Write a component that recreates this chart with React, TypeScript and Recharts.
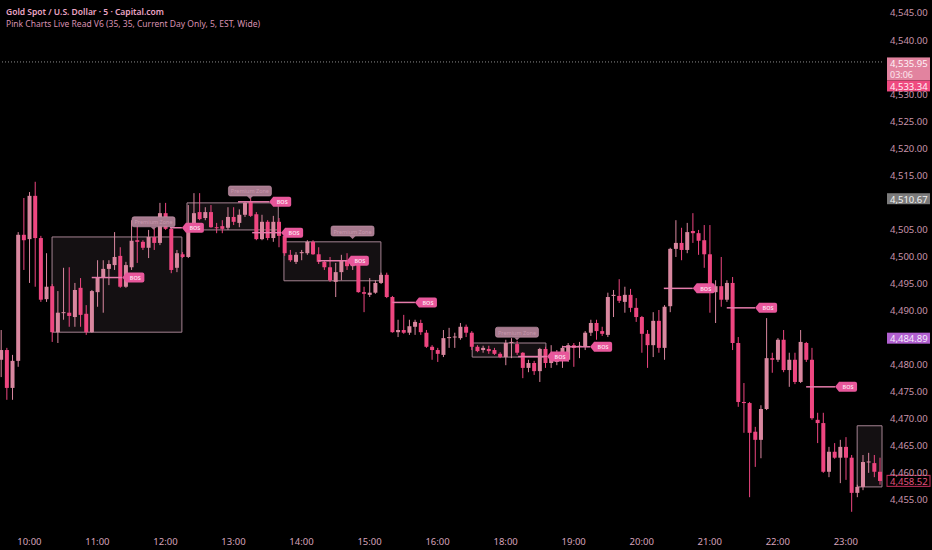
// Gold spot 5m chart, pink theme
import React from 'react';
import { ComposedChart, Bar, XAxis, YAxis, ReferenceArea, ReferenceLine, ReferenceDot } from 'recharts';

const BULL = '#d9879f';
const BEAR = '#ee4680';
const FONT = '"Noto Sans", "Open Sans", sans-serif';

// x axis: candle index of each hour label
const tickIdx = [5, 17, 29, 41, 53, 65, 77, 89, 101, 113, 125, 137, 149];
const tickLabels = ['10:00', '11:00', '12:00', '13:00', '14:00', '15:00', '16:00', '18:00', '19:00', '20:00', '21:00', '22:00', '23:00'];
const priceTicks = [4455, 4460, 4465, 4470, 4475, 4480, 4490, 4495, 4500, 4505, 4515, 4520, 4525, 4530, 4540, 4545];

const opens = [
  4480.9, 4482.7, 4475.7, 4480.7, 4504.0, 4503.2, 4511.2, 4503.4, 4492.1, 4494.5,
  4486.0, 4489.6, 4489.6, 4488.8, 4494.2, 4489.4, 4486.0, 4493.4, 4496.2, 4497.7,
  4498.4, 4500.1, 4494.4, 4498.0, 4503.0, 4502.7, 4501.6, 4503.6, 4502.5, 4508.0,
  4505.1, 4497.9, 4500.4, 4499.9, 4505.4, 4508.2, 4507.1, 4508.2, 4505.4, 4505.6,
  4505.3, 4507.3, 4506.2, 4507.7, 4510.1, 4507.8, 4503.2, 4506.4, 4503.4, 4506.4,
  4503.8, 4500.3, 4499.0, 4500.6, 4500.6, 4502.7, 4500.4, 4499.0, 4498.0, 4495.3,
  4497.1, 4499.3, 4498.2, 4499.0, 4493.4, 4492.9, 4493.3, 4495.1, 4496.6, 4492.5,
  4486.0, 4486.4, 4485.9, 4487.0, 4487.7, 4485.9, 4483.3, 4482.7, 4481.8, 4484.9,
  4485.1, 4484.9, 4487.0, 4485.9, 4483.3, 4482.7, 4482.9, 4482.7, 4482.0, 4481.4,
  4484.0, 4483.8, 4482.2, 4479.4, 4480.3, 4478.8, 4482.9, 4480.3, 4480.5, 4481.2,
  4480.9, 4483.6, 4483.3, 4483.3, 4485.9, 4487.7, 4486.2, 4485.5, 4492.7, 4492.7,
  4491.6, 4492.9, 4490.5, 4488.8, 4485.7, 4483.6, 4488.1, 4483.1, 4490.8, 4501.4,
  4502.5, 4501.2, 4504.7, 4504.3, 4503.0, 4500.4, 4493.4, 4494.5, 4492.0, 4495.1,
  4484.0, 4473.1, 4472.9, 4467.6, 4466.1, 4471.8, 4481.2, 4480.9, 4484.6, 4479.0,
  4480.9, 4476.8, 4484.0, 4480.9, 4469.8, 4469.2, 4460.2, 4463.9, 4462.8, 4464.8,
  4462.8, 4456.3, 4457.4, 4462.0, 4461.8, 4460.2,
];
const highs = [
  4486.4, 4483.1, 4481.8, 4504.5, 4510.8, 4511.9, 4513.8, 4503.8, 4500.6, 4494.9,
  4493.6, 4497.9, 4498.0, 4495.1, 4496.0, 4491.0, 4493.8, 4499.3, 4499.3, 4499.3,
  4504.5, 4501.7, 4499.0, 4506.7, 4506.4, 4503.0, 4504.9, 4505.3, 4509.9, 4509.9,
  4505.3, 4501.2, 4500.8, 4509.5, 4511.7, 4511.7, 4509.1, 4509.5, 4506.2, 4506.7,
  4509.1, 4509.1, 4508.7, 4510.1, 4510.8, 4508.2, 4507.7, 4506.7, 4507.5, 4507.1,
  4504.5, 4501.2, 4500.8, 4501.2, 4503.0, 4503.0, 4501.7, 4499.3, 4499.9, 4498.8,
  4500.3, 4500.6, 4499.7, 4499.3, 4494.4, 4496.0, 4495.6, 4497.0, 4497.0, 4492.7,
  4488.3, 4489.2, 4488.3, 4488.3, 4488.3, 4486.4, 4483.6, 4483.1, 4486.4, 4486.8,
  4485.9, 4487.7, 4487.4, 4486.2, 4483.6, 4483.5, 4483.5, 4483.1, 4482.3, 4484.6,
  4484.9, 4484.4, 4482.3, 4480.9, 4480.7, 4483.1, 4483.3, 4483.6, 4482.7, 4483.5,
  4484.0, 4484.0, 4484.2, 4486.2, 4488.3, 4488.3, 4487.0, 4493.3, 4493.8, 4495.8,
  4494.4, 4494.0, 4492.3, 4489.0, 4486.4, 4489.7, 4490.1, 4491.0, 4501.6, 4506.7,
  4505.3, 4506.2, 4508.0, 4504.9, 4505.8, 4505.8, 4495.6, 4499.9, 4495.6, 4496.2,
  4485.1, 4476.6, 4473.1, 4468.5, 4472.5, 4488.6, 4482.2, 4484.9, 4486.4, 4482.2,
  4482.2, 4486.4, 4484.2, 4483.1, 4471.1, 4471.1, 4464.8, 4465.5, 4466.1, 4466.6,
  4463.3, 4457.8, 4463.3, 4463.7, 4463.3, 4462.8,
];
const lows = [
  4477.7, 4473.5, 4473.5, 4479.6, 4497.5, 4495.1, 4494.4, 4491.6, 4491.6, 4484.2,
  4484.0, 4488.3, 4487.0, 4487.0, 4487.0, 4485.5, 4485.9, 4490.7, 4489.6, 4494.7,
  4497.5, 4494.2, 4494.2, 4497.5, 4498.8, 4501.2, 4499.7, 4501.2, 4502.1, 4504.9,
  4496.9, 4497.1, 4499.7, 4499.7, 4504.9, 4506.7, 4506.7, 4505.3, 4504.3, 4504.3,
  4504.9, 4505.8, 4505.4, 4507.3, 4507.3, 4503.0, 4503.0, 4503.0, 4502.7, 4501.7,
  4500.1, 4499.0, 4498.6, 4499.3, 4500.3, 4500.3, 4498.6, 4497.5, 4495.3, 4492.5,
  4495.6, 4497.5, 4497.5, 4493.3, 4489.7, 4492.5, 4493.1, 4494.9, 4492.3, 4485.9,
  4485.1, 4485.7, 4485.5, 4485.5, 4485.5, 4483.1, 4480.9, 4480.5, 4481.4, 4483.1,
  4483.1, 4484.6, 4485.1, 4482.7, 4482.3, 4482.2, 4482.0, 4481.8, 4481.2, 4479.9,
  4481.2, 4481.8, 4477.5, 4478.6, 4478.1, 4476.8, 4479.4, 4479.4, 4479.9, 4479.4,
  4480.5, 4479.6, 4481.2, 4482.7, 4485.3, 4484.6, 4485.3, 4485.1, 4488.8, 4491.4,
  4489.6, 4489.7, 4487.9, 4482.2, 4479.4, 4481.4, 4482.2, 4480.9, 4489.7, 4499.9,
  4499.3, 4500.6, 4502.5, 4500.3, 4497.9, 4489.6, 4487.7, 4490.7, 4491.6, 4482.7,
  4472.2, 4467.4, 4455.5, 4461.1, 4462.7, 4471.6, 4478.5, 4480.5, 4478.6, 4475.9,
  4476.4, 4476.6, 4480.5, 4469.8, 4465.5, 4460.0, 4459.2, 4462.6, 4458.1, 4458.7,
  4452.8, 4455.5, 4456.8, 4460.0, 4459.2, 4457.8,
];
const closes = [
  4482.7, 4475.7, 4480.7, 4504.0, 4503.0, 4511.2, 4503.4, 4492.0, 4494.4, 4486.0,
  4489.6, 4489.7, 4489.0, 4493.8, 4489.2, 4486.0, 4493.6, 4496.2, 4497.7, 4498.6,
  4499.9, 4494.4, 4498.4, 4502.9, 4502.7, 4501.6, 4503.6, 4502.5, 4508.0, 4505.1,
  4497.5, 4500.6, 4499.9, 4505.4, 4508.0, 4506.9, 4508.2, 4505.4, 4505.3, 4505.1,
  4507.3, 4506.4, 4507.7, 4509.9, 4507.5, 4503.2, 4506.4, 4503.4, 4506.4, 4503.8,
  4500.6, 4499.3, 4500.3, 4500.8, 4502.7, 4500.4, 4499.0, 4498.0, 4495.6, 4497.1,
  4499.3, 4498.2, 4499.0, 4493.4, 4493.1, 4493.3, 4495.1, 4496.6, 4492.5, 4486.0,
  4486.4, 4485.9, 4487.1, 4487.9, 4486.0, 4483.3, 4482.7, 4482.0, 4484.9, 4485.1,
  4485.2, 4487.0, 4485.9, 4483.3, 4482.5, 4483.1, 4482.5, 4482.0, 4481.4, 4484.0,
  4484.2, 4482.2, 4479.4, 4480.3, 4478.8, 4482.9, 4480.3, 4481.8, 4481.4, 4483.1,
  4483.6, 4483.1, 4483.5, 4485.9, 4487.7, 4486.2, 4485.7, 4492.5, 4492.9, 4491.8,
  4492.9, 4490.5, 4488.8, 4485.7, 4483.6, 4488.1, 4483.1, 4490.7, 4501.4, 4502.5,
  4501.2, 4504.5, 4504.3, 4502.9, 4500.4, 4493.4, 4494.5, 4492.0, 4495.1, 4484.0,
  4473.1, 4472.9, 4467.4, 4466.1, 4471.8, 4481.2, 4480.9, 4484.6, 4479.0, 4480.9,
  4476.8, 4484.2, 4480.9, 4470.1, 4469.2, 4460.2, 4463.9, 4462.8, 4464.8, 4462.8,
  4456.3, 4457.4, 4462.0, 4462.1, 4460.2, 4458.5,
];

// zones (boxes)
const boxX1 = [9.0, 32.8, 49.9, 83.1, 151.0];
const boxX2 = [31.9, 48.9, 67.0, 96.1, 155.38];
const boxTop = [4503.6, 4509.9, 4502.7, 4484.0, 4468.7];
const boxBottom = [4486.0, 4504.9, 4495.5, 4481.4, 4457.4];

// zone captions
const zoneX = [26.9, 43.9, 62.0, 91.0];
const zoneY = [4506.4, 4512.1, 4504.7, 4486.0];
const zoneText = ['Premium Zone', 'Premium Zone', 'Premium Zone', 'Premium Zone'];

// break of structure lines and tags
const bosX1 = [16.0, 29.8, 41.8, 44.3, 55.9, 69.0, 91.2, 99.0, 116.9, 128.0, 142.0];
const bosX2 = [21.4, 31.9, 47.3, 49.4, 61.0, 73.0, 96.3, 103.9, 122.0, 133.0, 147.1];
const bosY = [4496.1, 4505.3, 4510.1, 4504.4, 4499.2, 4491.5, 4481.5, 4483.3, 4494.1, 4490.5, 4475.9];

const data = opens.map((o, i) => ({ i, o, h: highs[i], l: lows[i], c: closes[i] }));

const Candle = (props: any) => {
  const { x, y, width, height, payload } = props;
  if (!payload) return null;
  const { o, h, l, c } = payload;
  const top = Math.min(y, y + height);
  const span = Math.abs(height);
  const py = (v: number) => (h === l ? top : top + ((h - v) / (h - l)) * span);
  const color = c >= o ? BULL : BEAR;
  const cx = x + width / 2;
  const bTop = py(Math.max(o, c));
  const bBot = py(Math.min(o, c));
  return (
    <g>
      <line x1={cx} x2={cx} y1={top} y2={top + span} stroke={color} strokeWidth={1} />
      <rect x={x} y={bTop} width={width} height={Math.max(1, bBot - bTop)} fill={color} />
    </g>
  );
};

const XTick = (props: any) => {
  const { x, payload } = props;
  const k = tickIdx.indexOf(payload.value);
  return (
    <text x={x} y={541} textAnchor="middle" dominantBaseline="central" fontSize={9.5} fill="#d7a3ba" fontFamily={FONT}>
      {tickLabels[k]}
    </text>
  );
};

const fmt = (v: number) => v.toLocaleString('en-US', { minimumFractionDigits: 2, maximumFractionDigits: 2 });

const YTick = (props: any) => {
  const { y, payload } = props;
  return (
    <text x={890} y={y} dominantBaseline="central" fontSize={9.5} fill="#c995ab" fontFamily={FONT}>
      {fmt(payload.value)}
    </text>
  );
};

const Tag = (props: any) => {
  const { cx, cy } = props;
  return (
    <g>
      <path
        d={`M${cx},${cy} L${cx + 4},${cy - 5} H${cx + 20} Q${cx + 22},${cy - 5} ${cx + 22},${cy - 3} V${cy + 3} Q${cx + 22},${cy + 5} ${cx + 20},${cy + 5} H${cx + 4} Z`}
        fill="#e8579b"
      />
      <text x={cx + 13} y={cy + 0.5} textAnchor="middle" dominantBaseline="central" fontSize={5.5} fontWeight={600} fill="#fbe1ee" fontFamily={FONT}>
        BOS
      </text>
    </g>
  );
};

const ZoneLabel = (props: any) => {
  const { cx, cy, text } = props;
  return (
    <g>
      <rect x={cx - 21.5} y={cy - 5} width={43} height={10} rx={2} fill="#a77a8e" stroke="#c99ab0" strokeWidth={0.6} />
      <path d={`M${cx - 3},${cy + 5} L${cx},${cy + 8} L${cx + 3},${cy + 5} Z`} fill="#a77a8e" />
      <text x={cx} y={cy + 0.5} textAnchor="middle" dominantBaseline="central" fontSize={5.5} fill="#c797ad" fontFamily={FONT}>
        {text}
      </text>
    </g>
  );
};

const PriceLabel = (props: any) => {
  const { cy, value, bg, color, outline } = props;
  const x0 = 887;
  return (
    <g>
      <rect x={x0} y={cy - 5.5} width={43} height={11} fill={outline ? 'none' : bg} stroke={outline ? bg : 'none'} strokeWidth={1} />
      <text x={x0 + 3} y={cy + 0.5} dominantBaseline="central" fontSize={9.5} fill={color} fontFamily={FONT}>
        {fmt(value)}
      </text>
    </g>
  );
};

const LastLabel = (props: any) => {
  const { cy } = props;
  const x0 = 887;
  return (
    <g>
      <rect x={x0} y={cy - 4.5} width={43} height={23} fill="#e2839f" />
      <rect x={x0} y={cy + 18.5} width={43} height={11} fill="#ef4a80" />
      <text x={x0 + 3} y={cy + 1.5} dominantBaseline="central" fontSize={9.5} fill="#fff3f7" fontFamily={FONT}>
        {fmt(4535.95)}
      </text>
      <text x={x0 + 3} y={cy + 12.5} dominantBaseline="central" fontSize={9} fill="#fde6ee" fontFamily={FONT}>
        03:06
      </text>
      <text x={x0 + 3} y={cy + 24.5} dominantBaseline="central" fontSize={9.5} fill="#fff3f7" fontFamily={FONT}>
        {fmt(4533.34)}
      </text>
    </g>
  );
};

export default function App() {
  return (
    <div style={{ position: 'absolute', left: 0, top: 0, width: 932, height: 550, background: '#000', overflow: 'hidden' }}>
      <ComposedChart width={932} height={550} data={data} margin={{ top: 0, right: 0, bottom: 0, left: 0 }}>
        <XAxis
          type="number"
          dataKey="i"
          domain={[-0.18, 155.38]}
          allowDataOverflow
          ticks={tickIdx}
          interval={0}
          height={25}
          axisLine={false}
          tickLine={false}
          tick={<XTick />}
        />
        <YAxis
          orientation="right"
          width={50}
          domain={[4450.36, 4547.4]}
          allowDataOverflow
          ticks={priceTicks}
          interval={0}
          axisLine={false}
          tickLine={false}
          tick={<YTick />}
        />
        {boxX1.map((x1, k) => (
          <ReferenceArea
            key={'b' + k}
            x1={x1}
            x2={boxX2[k]}
            y1={boxBottom[k]}
            y2={boxTop[k]}
            fill="#ffc8e0"
            fillOpacity={0.08}
            stroke="#a58392"
            strokeWidth={1}
            ifOverflow="visible"
          />
        ))}
        <ReferenceLine y={4535.95} stroke="#8c8c8c" strokeDasharray="1 2" strokeWidth={1} />
        {bosX1.map((x1, k) => (
          <ReferenceLine
            key={'l' + k}
            segment={[{ x: x1, y: bosY[k] }, { x: bosX2[k], y: bosY[k] }]}
            stroke="#e57cab"
            strokeWidth={1.5}
          />
        ))}
        {bosX2.map((x2, k) => (
          <ReferenceDot key={'t' + k} x={x2} y={bosY[k]} r={0} shape={(p: any) => <Tag {...p} />} />
        ))}
        {zoneX.map((zx, k) => (
          <ReferenceDot key={'z' + k} x={zx} y={zoneY[k]} r={0} shape={(p: any) => <ZoneLabel {...p} text={zoneText[k]} />} />
        ))}
        <Bar dataKey={(d: any) => [d.l, d.h]} barSize={4} shape={<Candle />} isAnimationActive={false} />
        <ReferenceDot x={155.38} y={4535.95} r={0} ifOverflow="visible" shape={(p: any) => <LastLabel {...p} />} />
        <ReferenceDot x={155.38} y={4510.67} r={0} ifOverflow="visible" shape={(p: any) => <PriceLabel {...p} value={4510.67} bg="#7b7b7b" color="#f2f2f2" />} />
        <ReferenceDot x={155.38} y={4484.89} r={0} ifOverflow="visible" shape={(p: any) => <PriceLabel {...p} value={4484.89} bg="#b160d0" color="#f6ecfb" />} />
        <ReferenceDot x={155.38} y={4458.52} r={0} ifOverflow="visible" shape={(p: any) => <PriceLabel {...p} value={4458.52} bg="#c42f5c" color="#e0517e" outline />} />
      </ComposedChart>
      <div style={{ position: 'absolute', left: 6, top: 6, fontFamily: FONT, fontSize: 8.5, lineHeight: '12px', whiteSpace: 'nowrap' }}>
        <div style={{ color: '#eaa4c4', fontWeight: 600 }}>Gold Spot / U.S. Dollar · 5 · Capital.com</div>
        <div style={{ color: '#d891b1' }}>Pink Charts Live Read V6 (35, 35, Current Day Only, 5, EST, Wide)</div>
      </div>
    </div>
  );
}
